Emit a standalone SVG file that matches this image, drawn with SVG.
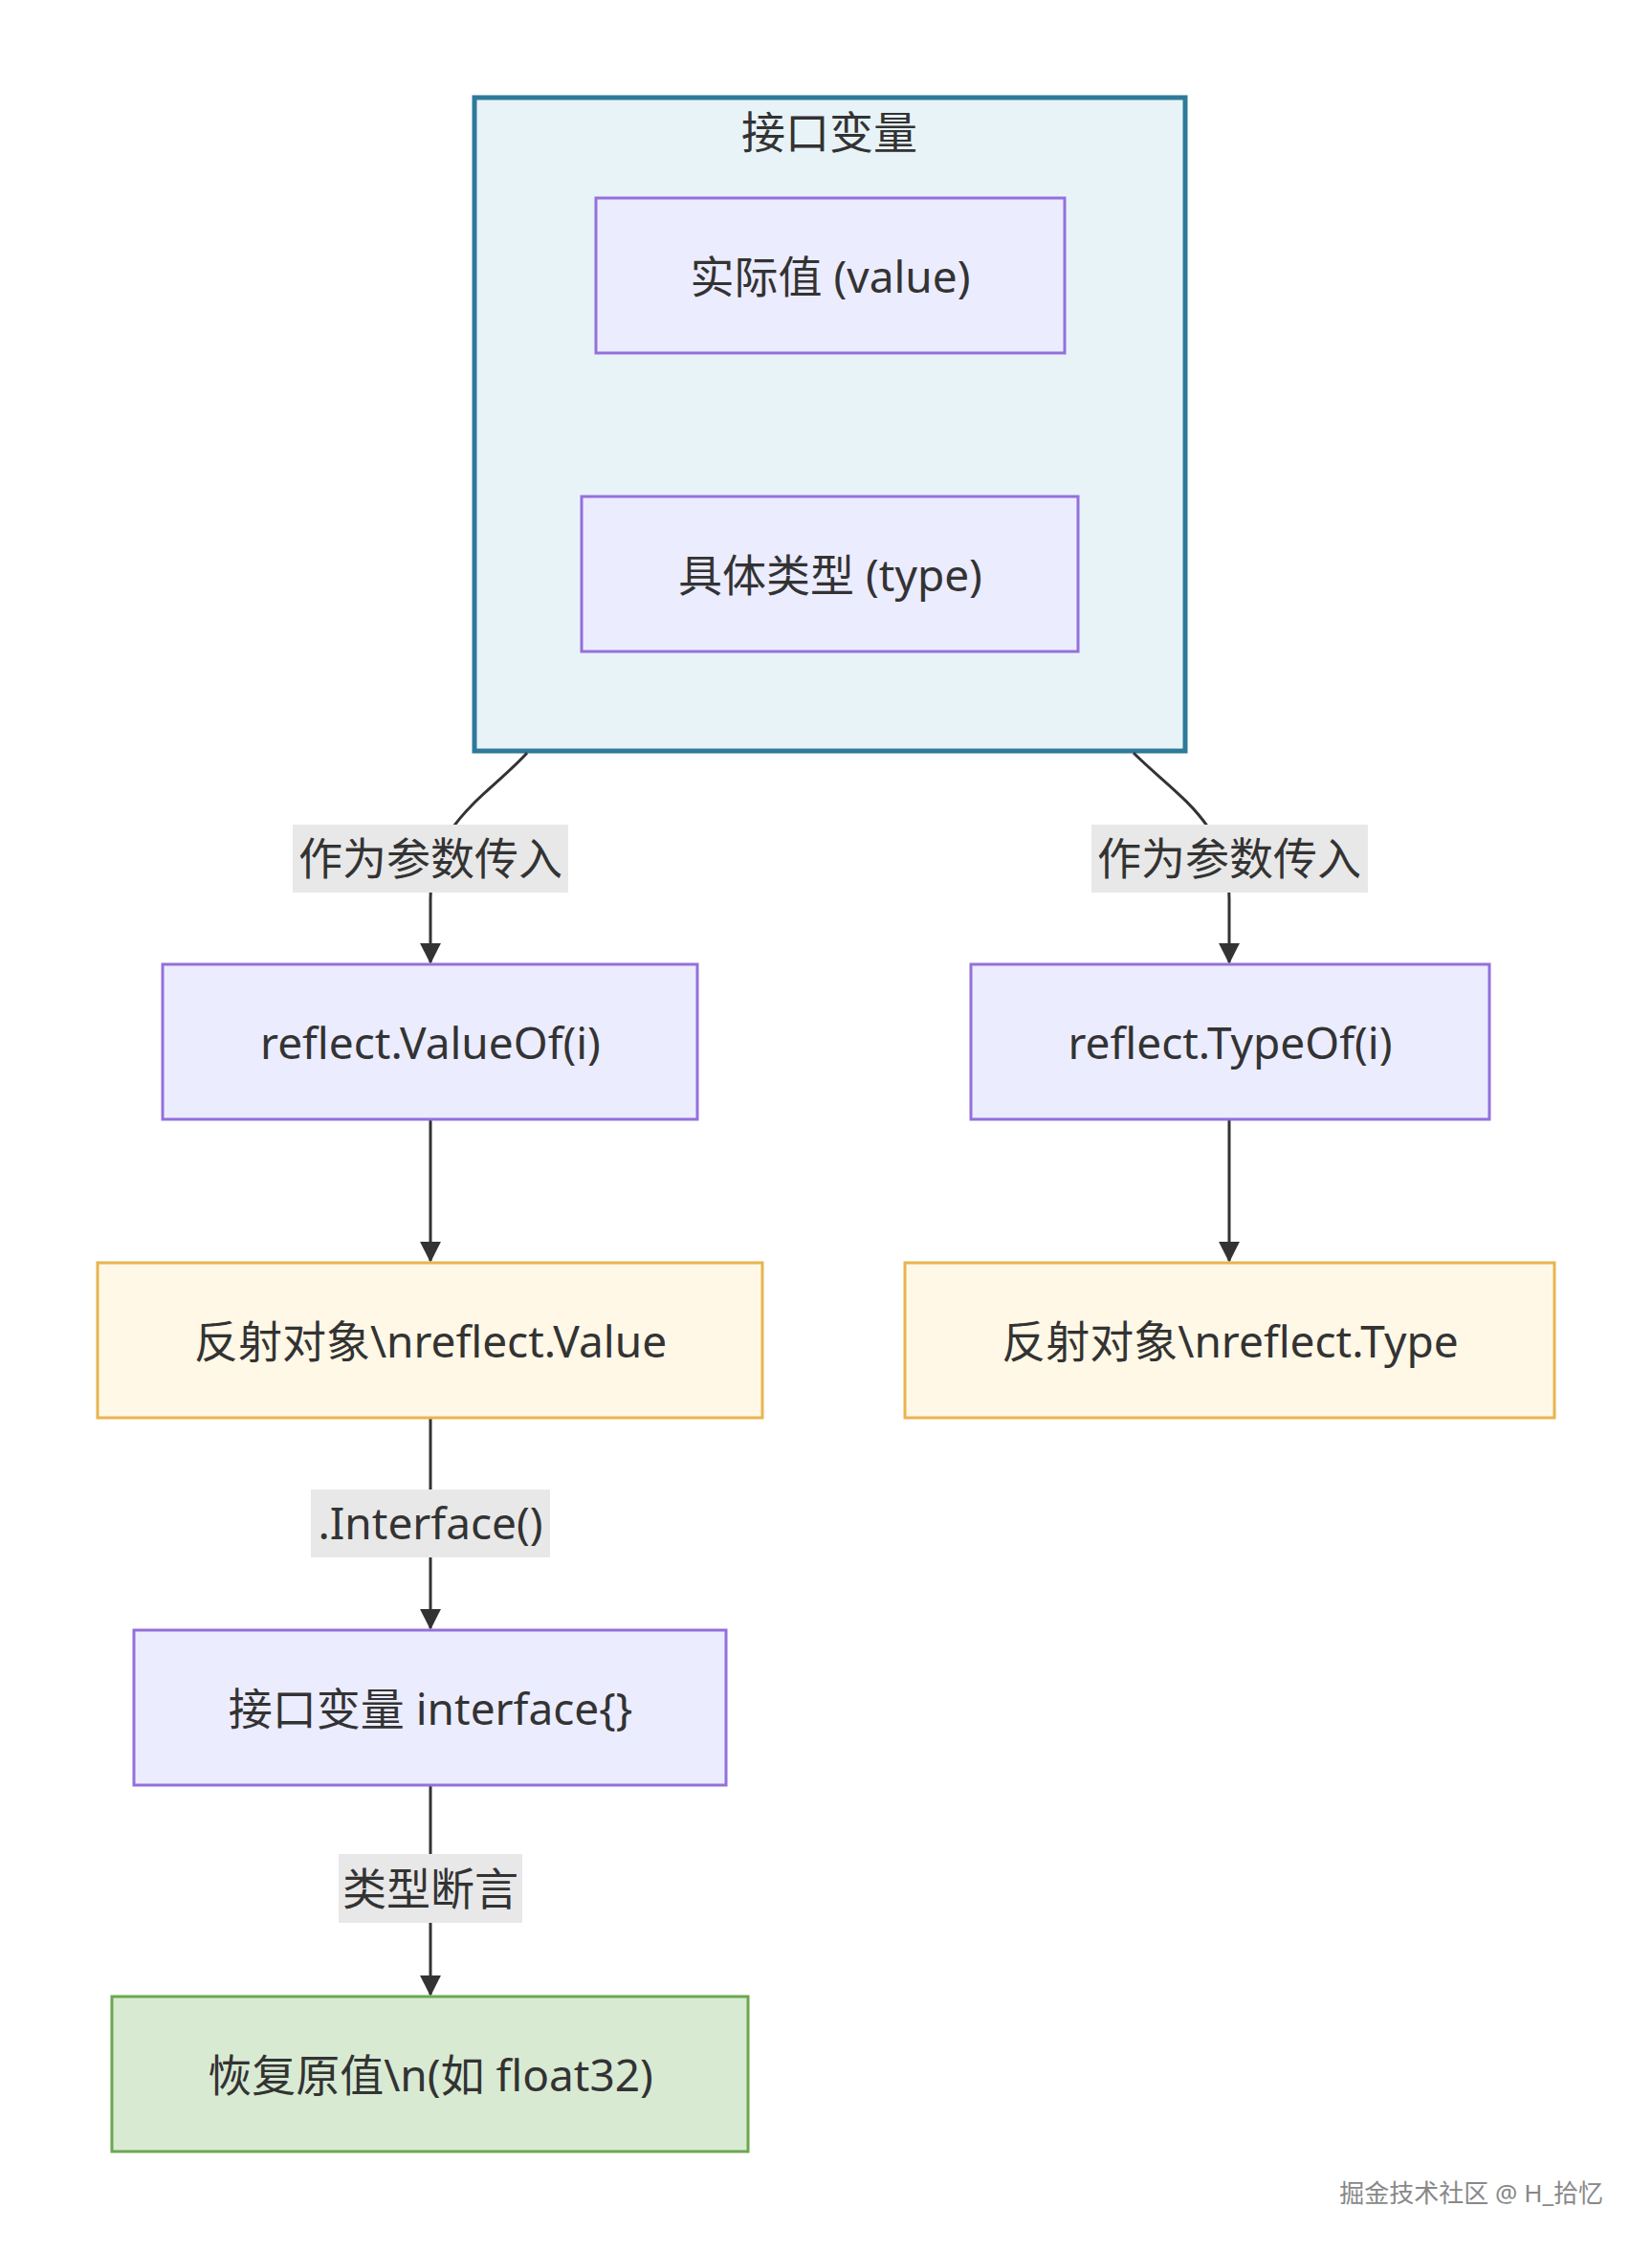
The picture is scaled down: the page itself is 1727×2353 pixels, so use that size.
<svg xmlns="http://www.w3.org/2000/svg" width="1727" height="2353" viewBox="0 0 1727 2353">
<style>
text{font-family:"Noto Sans","Noto Sans CJK SC",sans-serif;fill:#333;font-size:46px;text-anchor:middle;dominant-baseline:central}
.n{fill:#ECECFF;stroke:#9370DB;stroke-width:3}
.y{fill:#FFF8E6;stroke:#E8B44F;stroke-width:3}
.g{fill:#D9EAD3;stroke:#6AA84F;stroke-width:3}
.e{fill:none;stroke:#333;stroke-width:3;marker-end:url(#a)}
.lb{fill:#E8E8E8}
</style>
<defs><marker id="a" viewBox="0 0 12 12" refX="11" refY="6" markerWidth="22" markerHeight="22" orient="auto" markerUnits="userSpaceOnUse"><path d="M0,0L12,6L0,12z" fill="#333"/></marker></defs>
<rect width="1727" height="2353" fill="#fff"/>
<g id="cluster"><rect x="496" y="102" width="743" height="683" fill="#E8F3F8" stroke="#2E7A9A" stroke-width="5"/><text x="867" y="137">接口变量</text></g>
<g id="value"><rect class="n" x="623" y="207" width="490" height="162"/><text x="868" y="288">实际值 (value)</text></g>
<g id="type"><rect class="n" x="608" y="519" width="519" height="162"/><text x="868" y="600">具体类型 (type)</text></g>
<g id="edges">
<path class="e" d="M551,787 C510,832 450,860 450,940 L450,1006"/>
<path class="e" d="M1185,787 C1230,832 1285,860 1285,940 L1285,1006"/>
<path class="e" d="M450,1170 L450,1318"/>
<path class="e" d="M1285,1170 L1285,1318"/>
<path class="e" d="M450,1482 L450,1702"/>
<path class="e" d="M450,1866 L450,2085"/>
<rect class="lb" x="306" y="862" width="288" height="71"/><text x="450" y="896">作为参数传入</text>
<rect class="lb" x="1141" y="862" width="289" height="71"/><text x="1285" y="896">作为参数传入</text>
<rect class="lb" x="325" y="1557" width="250" height="71"/><text x="450" y="1591">.Interface()</text>
<rect class="lb" x="354" y="1938" width="192" height="72"/><text x="450" y="1973">类型断言</text>
</g>
<g id="valueof"><rect class="n" x="170" y="1008" width="559" height="162"/><text x="450" y="1089">reflect.ValueOf(i)</text></g>
<g id="typeof"><rect class="n" x="1015" y="1008" width="542" height="162"/><text x="1286" y="1089">reflect.TypeOf(i)</text></g>
<g id="rvalue"><rect class="y" x="102" y="1320" width="695" height="162"/><text x="450" y="1401">反射对象\nreflect.Value</text></g>
<g id="rtype"><rect class="y" x="946" y="1320" width="679" height="162"/><text x="1286" y="1401">反射对象\nreflect.Type</text></g>
<g id="iface"><rect class="n" x="140" y="1704" width="619" height="162"/><text x="450" y="1785">接口变量 interface{}</text></g>
<g id="orig"><rect class="g" x="117" y="2087" width="665" height="162"/><text x="450" y="2168">恢复原值\n(如 float32)</text></g>
<text x="1676" y="2292" style="font-size:26px;text-anchor:end;fill:#888">掘金技术社区 @ H_拾忆</text>
</svg>
